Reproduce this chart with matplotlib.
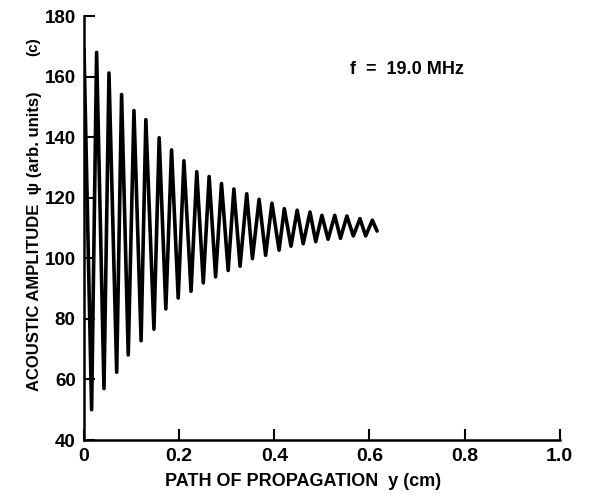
import numpy as np
import matplotlib
matplotlib.use("Agg")
import matplotlib.pyplot as plt

# extremes of the wave (y in cm, amplitude in arb. units)
start_x=[0.0]
start_amp=[169.0]
peak_x=[0.0265,0.0525,0.079,0.105,0.130,0.158,0.184,0.210,0.237,0.263,0.289,0.315,
        0.342,0.368,0.395,0.421,0.448,0.475,0.500,0.527,0.5525,0.580,0.606]
peak_amp=[168.0,161.2,154.1,148.8,145.8,139.8,135.8,132.2,128.6,127.0,124.7,122.9,
          121.3,119.5,118.2,116.4,115.9,115.3,114.2,114.2,114.0,113.1,112.6]
trough_x=[0.016,0.042,0.0687,0.093,0.120,0.147,0.172,0.198,0.225,0.2507,0.2766,0.303,
          0.328,0.354,0.3817,0.410,0.435,0.4607,0.487,0.513,0.539,0.566,0.592]
trough_amp=[50.0,57.0,62.4,68.1,72.8,76.6,83.3,86.9,89.1,91.9,93.9,96.0,
            97.4,99.9,101.0,102.7,104.0,104.8,105.5,106.3,106.6,107.4,107.4]
end_x=[0.616]
end_amp=[109.0]

xticks=[0,0.2,0.4,0.6,0.8,1.0]
xticklabels=["0","0.2","0.4","0.6","0.8","1.0"]
yticks=[40,60,80,100,120,140,160,180]

def buildWave():
    #alternate trough / peak after the starting point
    xs=list(start_x)
    ys=list(start_amp)
    for i in range(len(peak_x)):
        xs.append(trough_x[i]); ys.append(trough_amp[i])
        xs.append(peak_x[i]); ys.append(peak_amp[i])
    xs+=end_x
    ys+=end_amp
    return np.array(xs),np.array(ys)

def main():
    plt.rcParams['font.family']=['Liberation Sans','DejaVu Sans']
    plt.rcParams['font.weight']='bold'
    fig=plt.figure(figsize=(5.97,4.95),dpi=100)
    ax=fig.add_axes([0.1407,0.111,0.797,0.8566])

    x,y=buildWave()
    ax.plot(x,y,color="black",lw=2.6,solid_joinstyle="round",solid_capstyle="round")

    ax.set_xlim(0,1.0)
    ax.set_ylim(40,180)
    ax.set_xticks(xticks)
    ax.set_xticklabels(xticklabels)
    ax.set_yticks(yticks)
    for s in ["top","right"]:
        ax.spines[s].set_visible(False)
    for s in ["left","bottom"]:
        ax.spines[s].set_linewidth(1.8)
    ax.tick_params(direction="in",length=8,width=1.5,labelsize=13.5,pad=6)
    ax.tick_params(axis="x",labelsize=14,pad=6)
    for lab in ax.get_xticklabels()+ax.get_yticklabels():
        lab.set_fontweight("bold")

    ax.set_xlabel("PATH OF PROPAGATION  y (cm)",fontsize=13,fontweight="bold")
    ax.xaxis.set_label_coords(0.46,-0.078)
    ax.set_ylabel("ACOUSTIC AMPLITUDE  \u03c8 (arb. units)",fontsize=12,fontweight="bold")
    ax.yaxis.set_label_coords(-0.088,0.469)
    fig.text(33/597,1-47/495,"(c)",rotation=90,ha="center",va="center",
             fontsize=11,fontweight="bold")
    ax.text(0.559,162.4,"f  =  19.0 MHz",fontsize=13,fontweight="bold",va="center")

    fig.savefig("out.png",dpi=100)

if __name__=="__main__":
    main()
